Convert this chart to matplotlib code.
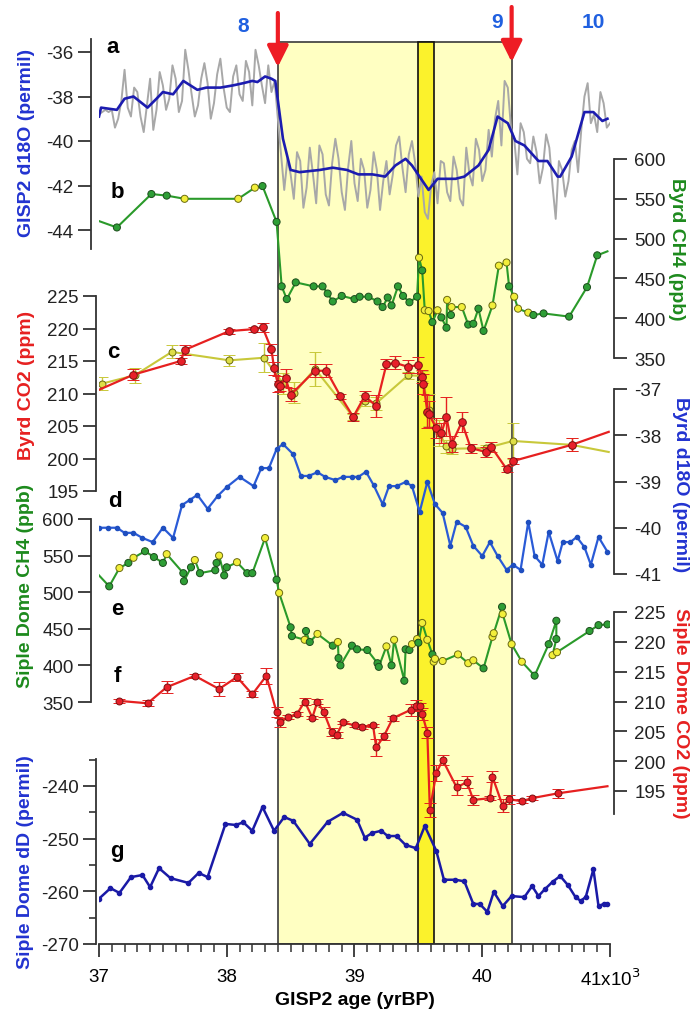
import matplotlib.pyplot as plt
import numpy as np

plt.rcParams['font.family'] = ['Liberation Sans', 'DejaVu Sans']
plt.rcParams['axes.unicode_minus'] = False

#################### DATOS ####################

# a) GISP2 d18O, serie completa (gris) cada 25 anios y suavizada (azul)
gisp_age = np.round(np.arange(37.0, 41.0001, 0.025), 3)
gisp_raw = [-38.8, -38.7, -38.6, -38.7, -38.6, -39.4, -39.0, -38.2, -36.8, -38.5,
            -38.9, -37.6, -37.8, -38.9, -39.6, -38.4, -37.2, -39.5, -38.6, -36.9,
            -37.5, -38.6, -38.1, -36.6, -37.2, -38.7, -38.2, -35.9, -36.8, -37.9,
            -38.9, -38.4, -37.2, -36.5, -37.4, -39.0, -38.3, -37.0, -36.3, -37.6,
            -38.5, -38.7, -37.1, -36.6, -37.9, -38.2, -36.4, -36.9, -38.4, -35.9,
            -36.6, -37.5, -38.3, -36.6, -37.8, -37.3, -39.0, -40.6, -42.2, -40.8,
            -41.5, -42.6, -40.5, -40.9, -43.0, -42.1, -40.3, -41.5, -42.8, -40.2,
            -40.6, -42.4, -42.9, -41.0, -39.9, -40.8, -42.3, -43.1, -41.2, -40.0,
            -41.9, -42.7, -40.8, -41.3, -43.0, -42.2, -40.5, -41.3, -43.1, -41.8,
            -40.9, -42.4, -41.5, -40.2, -39.8, -41.2, -42.3, -40.6, -40.0, -41.0,
            -42.5, -41.6, -43.2, -43.5, -42.0, -41.4, -42.8, -40.9, -41.0, -42.3,
            -42.7, -40.7, -41.3, -42.6, -42.9, -40.3, -41.5, -42.0, -39.9, -40.4,
            -41.8, -41.3, -39.5, -40.7, -39.0, -38.2, -40.2, -37.3, -37.6, -39.4,
            -39.9, -41.5, -39.2, -39.6, -40.8, -41.0, -39.8, -40.5, -41.9, -41.2,
            -39.7, -40.3, -42.0, -43.5, -40.9, -41.3, -42.5, -41.8, -40.4, -40.0,
            -41.4, -39.5, -38.0, -37.4, -39.2, -38.8, -39.6, -37.8, -38.3, -39.4,
            -39.2]
gisp_smooth_age = [37.00, 37.016, 37.14, 37.20, 37.27, 37.38, 37.45, 37.50, 37.58, 37.66,
                   37.77, 37.84, 37.95, 38.05, 38.13, 38.20, 38.24, 38.30, 38.35, 38.38,
                   38.44, 38.50, 38.57, 38.73, 38.83, 38.94, 39.03, 39.14, 39.24, 39.32,
                   39.40, 39.45, 39.58, 39.65, 39.79, 39.86, 39.97, 40.05, 40.12, 40.20,
                   40.26, 40.33, 40.44, 40.51, 40.59, 40.61, 40.70, 40.80, 40.87, 40.94,
                   40.98]
gisp_smooth = [-38.9, -38.5, -38.6, -38.1, -38.0, -38.5, -38.1, -37.8, -37.9, -37.3,
               -37.7, -37.6, -37.6, -37.5, -37.4, -37.3, -37.35, -37.1, -37.2, -37.3,
               -39.9, -41.3, -41.4, -41.3, -41.2, -41.3, -41.5, -41.5, -41.6, -41.1,
               -40.8, -41.1, -42.2, -41.7, -41.7, -41.6, -41.1, -40.4, -38.9, -39.2,
               -40.0, -40.2, -40.9, -40.9, -41.6, -41.6, -40.7, -38.7, -38.7, -39.1,
               -39.0]

# b) Byrd CH4 (g = verde, y = amarillo)
byrd_ch4_age = [37.00, 37.14, 37.41, 37.53, 37.67, 38.09, 38.22, 38.28, 38.39, 38.43,
                38.47, 38.54, 38.68, 38.75, 38.79, 38.83, 38.90, 39.00, 39.04, 39.11,
                39.18, 39.22, 39.26, 39.29, 39.34, 39.38, 39.43, 39.49, 39.505, 39.53,
                39.55, 39.58, 39.61, 39.65, 39.68, 39.72, 39.725, 39.755, 39.76, 39.84,
                39.89, 39.93, 39.97, 40.01, 40.08, 40.13, 40.19, 40.21, 40.25, 40.28,
                40.36, 40.40, 40.48, 40.68, 40.82, 40.90, 40.98]
byrd_ch4 = [522, 514, 556, 554, 550, 550, 564, 566, 521, 440,
            424, 445, 440, 440, 431, 421, 428, 424, 427, 427,
            421, 414, 426, 416, 440, 428, 420, 427, 476, 460,
            410, 409, 395, 410, 401, 388, 423, 404, 414, 414,
            392, 393, 412, 384, 416, 466, 470, 440, 427, 412,
            407, 404, 406, 402, 439, 479, 484]
byrd_ch4_lab = "ggggyyygg ggggggggggggggggggg ygyygyggygyy gggg yyy g yyy gggggg".replace(' ', '')

# c) Byrd CO2, dos conjuntos con barras de error
byrd_co2_age = [36.98, 37.27, 37.64, 37.67, 38.02, 38.21, 38.28, 38.35, 38.37, 38.40,
                38.42, 38.46, 38.50, 38.69, 38.78, 38.89, 38.99, 39.08, 39.17, 39.25,
                39.32, 39.42, 39.50, 39.53, 39.54, 39.57, 39.58, 39.64, 39.68, 39.72,
                39.76, 39.84, 39.91, 40.03, 40.07, 40.19, 40.24, 40.70, 40.99]
byrd_co2 = [210.4, 212.9, 215.0, 216.7, 219.6, 219.9, 220.2, 216.8, 213.9, 211.5,
            211.2, 212.4, 209.8, 213.5, 213.5, 209.6, 206.4, 209.6, 208.1, 214.5,
            214.7, 214.1, 214.4, 212.6, 211.5, 207.2, 206.9, 204.7, 203.9, 206.4,
            202.2, 205.6, 201.6, 201.0, 201.8, 198.4, 199.6, 202.1, 204.1]
byrd_co2_err = [0, 0.8, 0.4, 0.7, 0.4, 0.4, 0.7, 0.8, 1.0, 1.2,
                0.8, 1.4, 1.0, 1.0, 1.0, 0.4, 0.6, 0.8, 1.7, 0.8,
                1.0, 1.0, 1.2, 1.0, 1.5, 2.5, 2.0, 1.5, 1.5, 3.0,
                1.2, 1.5, 0.7, 0.8, 0.8, 0.5, 0.5, 1.0, 0]
byrd_co2b_age = [37.02, 37.28, 37.57, 38.02, 38.29, 38.44, 38.53, 38.69, 38.99, 39.08,
                 39.17, 39.42, 39.53, 39.58, 39.66, 39.72, 39.76, 40.03, 40.24, 40.70,
                 40.99]
byrd_co2b = [211.5, 212.8, 216.4, 215.1, 215.5, 211.6, 210.1, 213.8, 206.4, 208.9,
             208.5, 212.8, 212.7, 207.5, 204.0, 201.9, 201.5, 201.6, 202.7, 202.1,
             201.0]
byrd_co2b_err = [1.0, 1.2, 1.0, 0.9, 2.2, 1.6, 1.6, 2.6, 0.5, 0.8,
                 1.0, 0.5, 0.7, 2.5, 2.0, 1.0, 0.8, 0.5, 2.8, 1.0,
                 0]

# d) Byrd d18O
byrd_d18o_age = [37.00, 37.07, 37.14, 37.20, 37.27, 37.34, 37.42, 37.50, 37.58, 37.65,
                 37.71, 37.77, 37.85, 37.93, 38.00, 38.10, 38.21, 38.27, 38.33, 38.39,
                 38.44, 38.52, 38.58, 38.64, 38.71, 38.77, 38.85, 38.91, 38.98, 39.03,
                 39.09, 39.15, 39.22, 39.27, 39.33, 39.40, 39.45, 39.51, 39.57, 39.63,
                 39.69, 39.75, 39.80, 39.87, 39.93, 40.00, 40.06, 40.12, 40.19, 40.24,
                 40.30, 40.36, 40.41, 40.47, 40.52, 40.59, 40.63, 40.69, 40.74, 40.80,
                 40.85, 40.91, 40.98]
byrd_d18o = [-40.00, -40.00, -40.00, -40.11, -40.11, -40.22, -40.31, -40.00, -40.22, -39.51,
             -39.40, -39.29, -39.59, -39.31, -39.12, -38.90, -39.10, -38.71, -38.71, -38.30,
             -38.19, -38.41, -38.88, -38.88, -38.80, -38.90, -38.97, -38.90, -38.90, -38.90,
             -38.79, -39.08, -39.49, -39.10, -39.10, -39.01, -39.10, -39.66, -39.01, -39.49,
             -39.68, -40.39, -39.87, -39.98, -40.39, -40.61, -40.31, -40.61, -40.91, -40.80,
             -40.91, -39.88, -40.61, -40.80, -40.09, -40.72, -40.31, -40.31, -40.20, -40.42,
             -40.80, -40.20, -40.52]

# e) Siple Dome CH4
siple_ch4_age = [37.00, 37.08, 37.16, 37.23, 37.27, 37.36, 37.43, 37.50, 37.53, 37.66,
                 37.665, 37.72, 37.75, 37.79, 37.91, 37.92, 37.94, 37.98, 38.00, 38.08,
                 38.16, 38.20, 38.30, 38.39, 38.41, 38.50, 38.51, 38.61, 38.62, 38.65,
                 38.71, 38.83, 38.87, 38.875, 38.89, 38.98, 39.02, 39.10, 39.18, 39.19,
                 39.25, 39.29, 39.31, 39.39, 39.40, 39.43, 39.45, 39.49, 39.50, 39.53,
                 39.57, 39.61, 39.62, 39.63, 39.69, 39.81, 39.89, 39.93, 40.01, 40.08,
                 40.09, 40.155, 40.16, 40.23, 40.31, 40.41, 40.52, 40.58, 40.58, 40.55,
                 40.585, 40.84, 40.91, 40.98]
siple_ch4 = [523, 508, 533, 540, 547, 556, 548, 540, 552, 526,
             515, 534, 544, 526, 530, 540, 550, 523, 534, 541,
             526, 526, 574, 517, 499, 452, 440, 435, 447, 432,
             443, 427, 432, 410, 400, 427, 422, 421, 403, 398,
             426, 400, 435, 379, 422, 421, 429, 436, 431, 458,
             435, 415, 405, 409, 406, 415, 403, 407, 396, 439,
             444, 480, 470, 429, 405, 386, 429, 461, 436, 414,
             418, 447, 455, 456]
siple_ch4_lab = ("ggygy gggy gggy gggy ggy ggy gy ggy ggy gy ggggggg ygy ggg yy g yy g "
                 "yyyyyy g yy g yyy gggg yy ggg").replace(' ', '')

# f) Siple Dome CO2
siple_co2_age = [37.16, 37.38, 37.53, 37.75, 37.94, 38.08, 38.20, 38.31, 38.39, 38.42,
                 38.48, 38.55, 38.61, 38.67, 38.71, 38.76, 38.82, 38.86, 38.91, 39.00,
                 39.06, 39.145, 39.17, 39.23, 39.30, 39.44, 39.48, 39.51, 39.53, 39.57,
                 39.59, 39.64, 39.69, 39.80, 39.88, 39.93, 40.06, 40.08, 40.16, 40.21,
                 40.31, 40.39, 40.59, 40.98]
siple_co2 = [210.1, 209.7, 212.4, 214.3, 212.1, 214.1, 211.2, 214.3, 208.2, 206.5,
             207.4, 207.9, 210.0, 207.3, 210.0, 208.2, 204.9, 204.4, 206.5, 206.0,
             205.7, 206.0, 202.3, 204.2, 207.2, 208.6, 209.3, 209.2, 207.9, 204.8,
             191.8, 198.0, 200.2, 195.6, 196.5, 193.5, 193.8, 197.4, 192.5, 193.6,
             193.3, 193.8, 194.6, 195.8]
siple_co2_err = [0.3, 0.5, 1.0, 0.3, 1.2, 0.7, 0.5, 1.3, 0.8, 0.8,
                 0.4, 0.4, 0.6, 0.3, 0.5, 0.8, 0.6, 0.5, 0.3, 0.3,
                 0.3, 0.3, 1.4, 0.6, 0.4, 1.0, 0.9, 0.6, 1.0, 1.0,
                 1.2, 1.3, 0.9, 1.2, 1.0, 0.9, 0.3, 0.9, 1.1, 0.7,
                 0.3, 0.3, 0.8, 0]

# g) Siple Dome dD
siple_dd_age = [37.00, 37.09, 37.16, 37.25, 37.34, 37.40, 37.47, 37.56, 37.70, 37.78,
                37.85, 37.99, 38.07, 38.13, 38.20, 38.28, 38.37, 38.45, 38.52, 38.65,
                38.79, 38.91, 39.02, 39.08, 39.14, 39.21, 39.26, 39.33, 39.40, 39.48,
                39.55, 39.64, 39.70, 39.79, 39.86, 39.93, 39.98, 40.04, 40.09, 40.16,
                40.23, 40.33, 40.39, 40.44, 40.49, 40.55, 40.61, 40.67, 40.73, 40.77,
                40.81, 40.87, 40.91, 40.95, 40.98]
siple_dd = [-261.4, -259.4, -260.3, -257.3, -256.9, -259.2, -255.6, -257.5, -258.4, -256.5,
            -257.3, -247.2, -247.4, -246.9, -248.5, -244.0, -248.5, -245.9, -246.6, -251.0,
            -246.8, -245.1, -246.4, -249.8, -248.9, -248.5, -249.5, -249.5, -251.2, -251.8,
            -247.6, -252.3, -257.8, -257.8, -258.1, -262.4, -262.4, -263.9, -260.1, -262.8,
            -260.9, -261.1, -259.0, -260.9, -259.6, -258.2, -257.1, -258.8, -261.1, -261.8,
            -261.1, -255.8, -262.8, -262.4, -262.4]

# intervalos sombreados y flechas
box_span = (38.4, 40.23)
band_span = (39.5, 39.62)
arrow_ages = [38.4, 40.23]
event_labels = ['8', '9', '10']

#################### COLORES ####################
RED = '#e62020'
GREEN = '#2a9a2a'
BLUE = '#1c1cb0'
BLUE2 = '#2a5bd7'
LBL_BLUE = '#2233d0'
LBL_GREEN = '#1d8a1d'
DOT = {'g': '#2e9e36', 'y': '#f2ee3a'}
DOT_EDGE = {'g': '#1d4d1d', 'y': '#6b6b10'}
AXC = '#333333'

#################### LAYOUT (en pixeles de la figura) ####################
W, H = 691, 1012
PL, PR = 99, 610      # columnas de 37 y 41 kyr
PB, PT = 945, 10      # filas del fondo y tope del area de dibujo


def fx(px):
    return px / W


def fy(py):
    return 1 - py / H


def lims(v1, p1, v2, p2):
    # limites del eje y para que v1 caiga en la fila p1 y v2 en la fila p2
    k = (v2 - v1) / (p2 - p1)
    return v1 + (PB - p1) * k, v1 + (PT - p1) * k


fig = plt.figure(figsize=(W / 100, H / 100), dpi=100)
rect = [fx(PL), fy(PB), fx(PR) - fx(PL), fy(PT) - fy(PB)]

# eje base: sombreado + eje x
base = fig.add_axes(rect)
base.set_xlim(37, 41)
base.set_ylim(0, 1)
top_frac = (PB - 43) / (PB - PT)
base.axvspan(*box_span, ymin=0, ymax=top_frac, facecolor='#ffffc2',
             edgecolor='#3a3a3a', lw=1.2, zorder=0)
base.axvspan(*band_span, ymin=0, ymax=top_frac, facecolor='#fbf22c',
             edgecolor='#111111', lw=1.2, zorder=1)
for s in ['top', 'left', 'right']:
    base.spines[s].set_visible(False)
base.spines['bottom'].set_color(AXC)
base.spines['bottom'].set_linewidth(1.3)
base.set_yticks([])
base.set_xticks([37, 38, 39, 40, 41])
base.set_xticklabels(['37', '38', '39', '40', '41x10$^3$'])
base.set_xticks(np.arange(37, 41.001, 0.1), minor=True)
base.tick_params(axis='x', which='major', direction='out', length=9, width=1.3,
                 color=AXC, labelsize=13.5, pad=8)
base.tick_params(axis='x', which='minor', direction='out', length=5.5, width=1.1, color=AXC)

# flechas rojas
for xa, (t0, t1) in zip(arrow_ages, [(14, 68), (8, 63)]):
    base.annotate('', xy=(xa, fy(t1)), xytext=(xa, fy(t0)),
                  xycoords=('data', 'figure fraction'),
                  textcoords=('data', 'figure fraction'),
                  arrowprops=dict(arrowstyle='-|>,head_length=0.9,head_width=0.45',
                                  color='#ee1c24', lw=3, shrinkA=0, shrinkB=0,
                                  mutation_scale=14),
                  annotation_clip=False)

for lab, (px, py) in zip(event_labels, [(243, 27), (497, 23), (593, 22)]):
    fig.text(fx(px), fy(py), lab, color='#2060e0', fontsize=15, fontweight='bold',
             ha='center', va='center')


def panel(side, ylim, bounds, ticks, offset_px, minor=None):
    ax = fig.add_axes(rect)
    ax.set_xlim(37, 41)
    ax.set_ylim(*ylim)
    ax.patch.set_visible(False)
    ax.xaxis.set_visible(False)
    for s in ['top', 'bottom', 'left', 'right']:
        ax.spines[s].set_visible(s == side)
    sp = ax.spines[side]
    sp.set_position(('outward', offset_px * 0.72))
    sp.set_bounds(*bounds)
    sp.set_linewidth(1.3)
    sp.set_color(AXC)
    ax.yaxis.set_ticks_position(side)
    ax.set_yticks(ticks)
    if minor is not None:
        ax.set_yticks(minor, minor=True)
    ax.tick_params(axis='y', which='major', direction='out', length=9.5, width=1.3,
                   color=AXC, labelsize=13.5, pad=3 if side == 'left' else 5,
                   labelcolor='#222222')
    ax.tick_params(axis='y', which='minor', direction='out', length=5, width=1.2, color=AXC)
    return ax


# a) GISP2 d18O
ax_a = panel('left', lims(-36, 53, -44, 231), (-35.4, -44.85), [-44, -42, -40, -38, -36], 8)
ax_a.plot(gisp_age, gisp_raw, color='#a8a8a8', lw=1.4, zorder=2)
ax_a.plot(gisp_smooth_age, gisp_smooth, color=BLUE, lw=1.9, zorder=3)

# b) Byrd CH4
ax_b = panel('right', lims(600, 160, 350, 359), (350, 600), [350, 400, 450, 500, 550, 600], 4)
ax_b.plot(byrd_ch4_age, byrd_ch4, color=GREEN, lw=1.5, zorder=2)
ax_b.scatter(byrd_ch4_age[1:-1], byrd_ch4[1:-1], s=26,
             c=[DOT[k] for k in byrd_ch4_lab[1:-1]],
             edgecolors=[DOT_EDGE[k] for k in byrd_ch4_lab[1:-1]], linewidths=0.7, zorder=3)

# c) Byrd CO2
ax_c = panel('left', lims(225, 297, 195, 492), (195, 225), [195, 200, 205, 210, 215, 220, 225], 3)
ax_c.plot(byrd_co2b_age, byrd_co2b, color='#c8c83a', lw=1.5, zorder=2)
ax_c.errorbar(byrd_co2b_age[:-1], byrd_co2b[:-1], yerr=byrd_co2b_err[:-1], fmt='o',
              ms=5, mfc='#dede48', mec='#6b6b10', mew=0.7, ecolor='#c8c83a',
              elinewidth=1, capsize=4.5, capthick=1, zorder=2)
ax_c.plot(byrd_co2_age, byrd_co2, color=RED, lw=1.6, zorder=3)
ax_c.errorbar(byrd_co2_age[1:-1], byrd_co2[1:-1], yerr=byrd_co2_err[1:-1], fmt='o',
              ms=5.5, mfc='#e8202a', mec='#7a1010', mew=0.7, ecolor=RED,
              elinewidth=1, capsize=4.5, capthick=1, zorder=3)

# d) Byrd d18O
ax_d = panel('right', lims(-37, 390, -41, 575), (-41, -37), [-41, -40, -39, -38, -37], 4)
ax_d.plot(byrd_d18o_age, byrd_d18o, color=BLUE2, lw=1.6, marker='o', ms=3,
          mfc='#1f4fc0', mec='#1f4fc0', zorder=3)

# e) Siple Dome CH4
ax_e = panel('left', lims(600, 520, 350, 703), (350, 600), [350, 400, 450, 500, 550, 600], 8)
ax_e.plot(siple_ch4_age, siple_ch4, color=GREEN, lw=1.5, zorder=2)
ax_e.scatter(siple_ch4_age[1:], siple_ch4[1:], s=26,
             c=[DOT[k] for k in siple_ch4_lab[1:]],
             edgecolors=[DOT_EDGE[k] for k in siple_ch4_lab[1:]], linewidths=0.7, zorder=3)

# f) Siple Dome CO2
ax_f = panel('right', lims(225, 613, 195, 792), (191.1, 225), [195, 200, 205, 210, 215, 220, 225], 4)
ax_f.plot(siple_co2_age, siple_co2, color=RED, lw=1.6, zorder=2)
ax_f.errorbar(siple_co2_age[:-1], siple_co2[:-1], yerr=siple_co2_err[:-1], fmt='o',
              ms=5, mfc='#e8202a', mec='#7a1010', mew=0.7, ecolor=RED,
              elinewidth=1, capsize=4.5, capthick=1, zorder=3)

# g) Siple Dome dD
ax_g = panel('left', lims(-240, 787, -270, 945), (-270, -234.9), [-270, -260, -250, -240], 3,
             minor=[-265, -255, -245, -235])
ax_g.plot(siple_dd_age, siple_dd, color='#1a1aa6', lw=1.8, marker='o', ms=3,
          mfc='#1a1aa6', mec='#1a1aa6', zorder=3)

# etiquetas de los ejes
ylabels = [
    ('GISP2 d18O (permil)', LBL_BLUE, 27, 143, 90),
    ('Byrd CO2 (ppm)', RED, 27, 385, 90),
    ('Siple Dome CH4 (ppb)', LBL_GREEN, 26, 586, 90),
    ('Siple Dome dD (permil)', LBL_BLUE, 26, 862, 90),
    ('Byrd CH4 (ppb)', LBL_GREEN, 677, 249, 270),
    ('Byrd d18O (permil)', LBL_BLUE, 681, 485, 270),
    ('Siple Dome CO2 (ppm)', RED, 681, 713, 270),
]
for txt, col, px, py, rot in ylabels:
    fig.text(fx(px), fy(py), txt, color=col, fontsize=14, fontweight='bold',
             rotation=rot, ha='center', va='center')

# letras de los paneles
for lab, (px, py) in zip('abcdefg', [(113, 48), (117, 193), (113, 352), (115, 502),
                                     (117, 610), (117, 677), (117, 851)]):
    fig.text(fx(px), fy(py), lab, color='black', fontsize=16, fontweight='bold',
             ha='center', va='center')

fig.text(fx(355), fy(1001), 'GISP2 age (yrBP)', fontsize=14, fontweight='bold',
         ha='center', va='center')

fig.savefig('out.png', dpi=100)
